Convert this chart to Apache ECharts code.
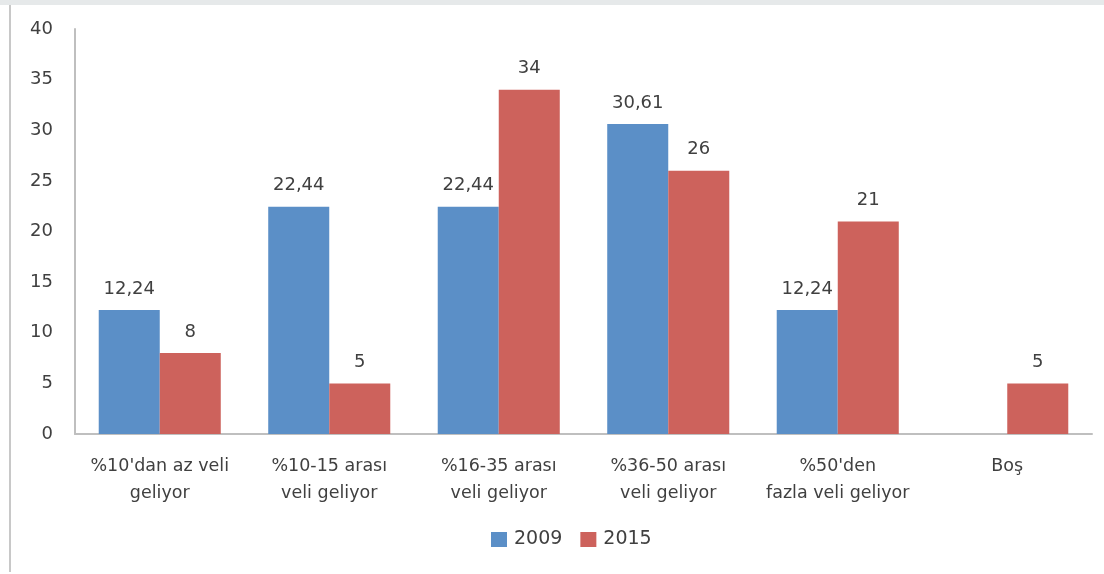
<!DOCTYPE html>
<html>
<head>
<meta charset="utf-8">
<script src="https://cdn.jsdelivr.net/npm/echarts@6/dist/echarts.min.js"></script>
<style>
html,body{margin:0;padding:0;background:#fff;}
#chart{width:1104px;height:574px;}
</style>
</head>
<body>
<div id="chart"></div>
<script>
const categories = ["%10'dan az veli\ngeliyor", "%10-15 arası\nveli geliyor", "%16-35 arası\nveli geliyor", "%36-50 arası\nveli geliyor", "%50'den\nfazla veli geliyor", "Boş"];
const seriesNames = ["2009", "2015"];
const values2009 = [12.24, 22.44, 22.44, 30.61, 12.24, null];
const values2015 = [8, 5, 34, 26, 21, 5];
const yTicks = [0, 5, 10, 15, 20, 25, 30, 35, 40];

const chart = echarts.init(document.getElementById('chart'));
const font = "'DejaVu Sans', sans-serif";
const textColor = '#404040';
const labelCfg = {
  show: true,
  position: 'top',
  distance: 12,
  color: textColor,
  fontFamily: font,
  fontSize: 18,
  formatter: p => p.value == null ? '' : String(p.value).replace('.', ',')
};
chart.setOption({
  animation: false,
  backgroundColor: '#fff',
  textStyle: { fontFamily: font },
  graphic: [
    { type: 'rect', shape: { x: 0, y: 0, width: 1104, height: 5 }, style: { fill: '#e6e9ea' } },
    { type: 'rect', shape: { x: 9, y: 5, width: 2, height: 567 }, style: { fill: '#c8c8c8' } }
  ],
  grid: { left: 75, right: 12, top: 29, bottom: 140, containLabel: false },
  legend: {
    data: seriesNames,
    bottom: 20,
    left: 486,
    itemWidth: 16,
    itemHeight: 15,
    itemGap: 18,
    icon: 'rect',
    textStyle: { color: textColor, fontSize: 19, fontFamily: font, padding: [0, 0, 0, 2] }
  },
  xAxis: {
    type: 'category',
    data: categories,
    axisLine: { lineStyle: { color: '#bfbfbf', width: 2 } },
    axisTick: { show: false },
    axisLabel: { color: textColor, fontSize: 17.5, fontFamily: font, margin: 19, lineHeight: 27, interval: 0 }
  },
  yAxis: {
    type: 'value',
    min: 0, max: 40, interval: 5,
    axisLine: { show: true, lineStyle: { color: '#bfbfbf', width: 2 } },
    axisTick: { show: false },
    splitLine: { show: false },
    axisLabel: { color: textColor, fontSize: 18, fontFamily: font, margin: 22,
      formatter: v => yTicks.includes(v) ? String(v) : '' }
  },
  series: [
    { name: seriesNames[0], type: 'bar', data: values2009, barGap: '0%', barCategoryGap: '28%',
      itemStyle: { color: '#5b8fc7' }, label: labelCfg },
    { name: seriesNames[1], type: 'bar', data: values2015, barGap: '0%', barCategoryGap: '28%',
      itemStyle: { color: '#cd625c' }, label: labelCfg }
  ]
});
</script>
</body>
</html>
